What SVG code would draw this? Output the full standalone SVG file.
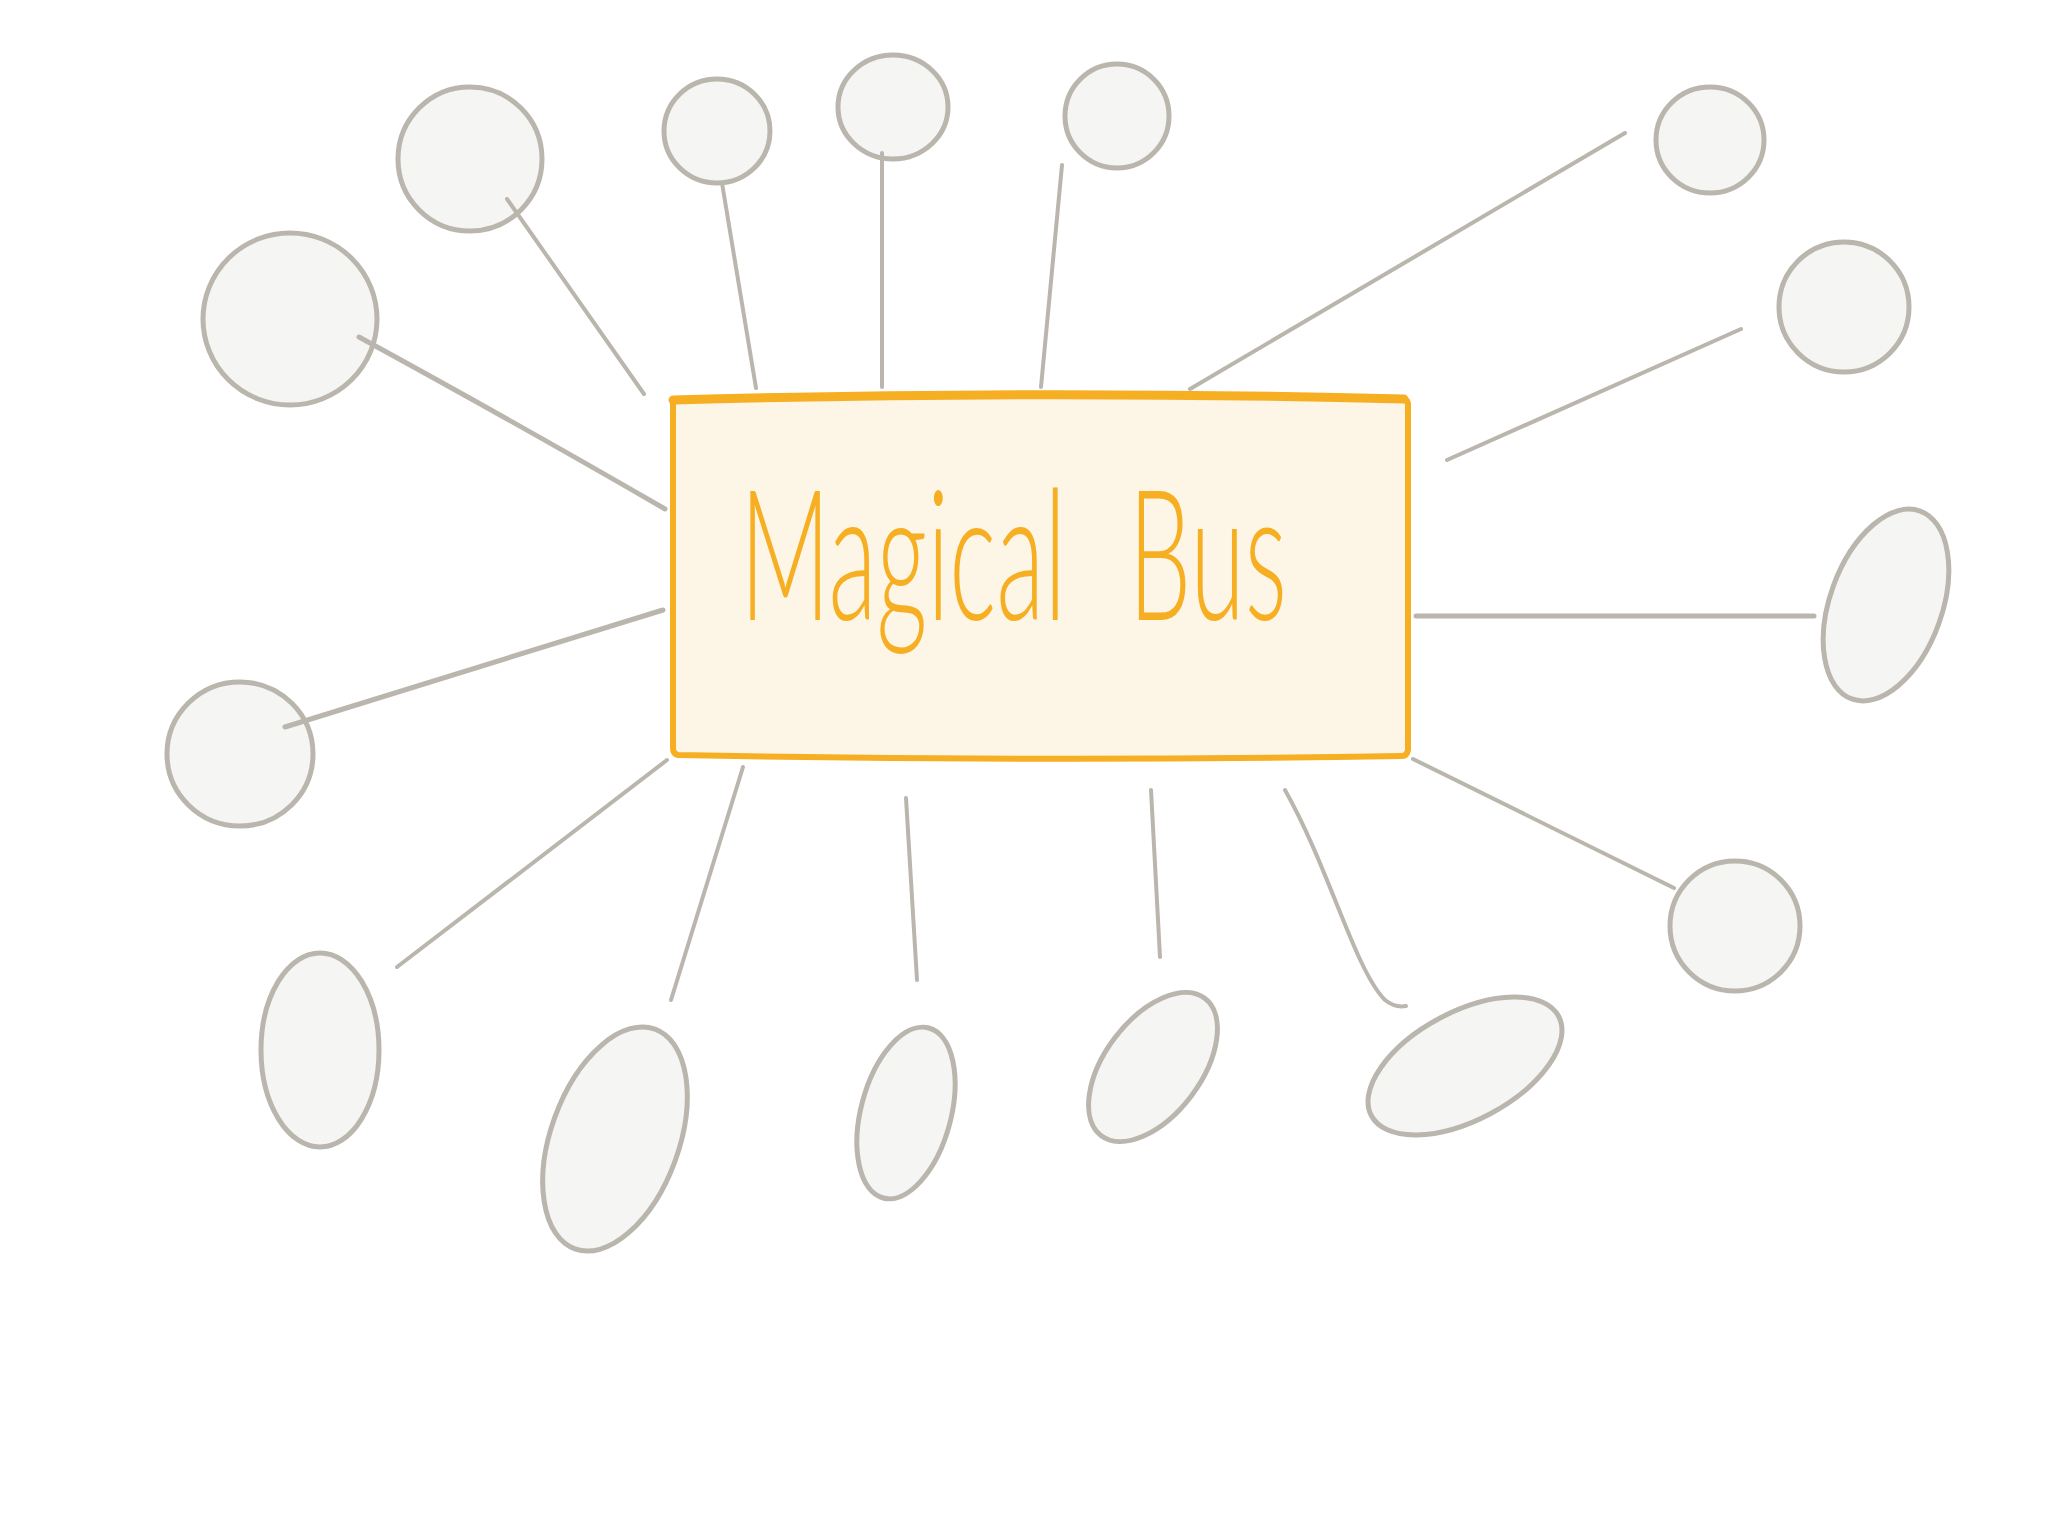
<svg xmlns="http://www.w3.org/2000/svg" width="2048" height="1536" viewBox="0 0 2048 1536">
<style>
.node{fill:#F5F5F3;stroke:#BAB6AE;stroke-width:5}
.edge{fill:none;stroke:#BAB6AE;stroke-width:4;stroke-linecap:round}
.hub{fill:#FDF5E5;stroke:#F6AF22;stroke-width:6;stroke-linejoin:round}
.lbl{fill:#F6AF22;font-family:Lato,"Open Sans","Liberation Sans",sans-serif;font-weight:300;font-size:182px;word-spacing:65px}
</style>
<rect width="2048" height="1536" fill="#FFFFFF"/>
<g id="hub">
<path class="hub" d="M673,400 Q1040,390 1404,399 Q1408,400 1408,405 L1408,750 Q1407,756 1402,756 Q1040,762 678,755 Q673,754 673,748 Z"/>
<path d="M673,400 Q1040,390 1404,399" fill="none" stroke="#F6AF22" stroke-width="9" stroke-linecap="round"/>
<text class="lbl" x="740" y="620" textLength="547" lengthAdjust="spacingAndGlyphs">Magical Bus</text>
</g>
<g id="n1"><ellipse class="node" cx="470" cy="159" rx="72" ry="72"/></g>
<g id="n2"><ellipse class="node" cx="290" cy="319" rx="87" ry="86"/></g>
<g id="n3"><ellipse class="node" cx="717" cy="131" rx="53" ry="52"/></g>
<g id="n4"><ellipse class="node" cx="893" cy="107" rx="55" ry="52"/></g>
<g id="n5"><ellipse class="node" cx="1117" cy="116" rx="52" ry="52"/></g>
<g id="n6"><ellipse class="node" cx="1710" cy="140" rx="54" ry="53"/></g>
<g id="n7"><ellipse class="node" cx="1844" cy="307" rx="65" ry="65"/></g>
<g id="n8"><ellipse class="node" cx="1886" cy="605" rx="56" ry="100" transform="rotate(20 1886 605)"/></g>
<g id="n9"><ellipse class="node" cx="240" cy="754" rx="73" ry="72"/></g>
<g id="n10"><ellipse class="node" cx="1735" cy="926" rx="65" ry="65"/></g>
<g id="n11"><ellipse class="node" cx="320" cy="1050" rx="59" ry="97"/></g>
<g id="n12"><ellipse class="node" cx="615" cy="1139" rx="64" ry="117" transform="rotate(20 615 1139)"/></g>
<g id="n13"><ellipse class="node" cx="906" cy="1113" rx="45" ry="88" transform="rotate(15 906 1113)"/></g>
<g id="n14"><ellipse class="node" cx="1153" cy="1067" rx="48" ry="86" transform="rotate(37 1153 1067)"/></g>
<g id="n15"><ellipse class="node" cx="1465" cy="1066" rx="106" ry="54" transform="rotate(-28 1465 1066)"/></g>
<g id="connectors">
<path class="edge" d="M507,199 L644,394"/>
<path class="edge" d="M359,337 Q520,425 665,509" style="stroke-width:5"/>
<path class="edge" d="M722,183 L756,388"/>
<path class="edge" d="M882,153 L882,387"/>
<path class="edge" d="M1062,165 L1041,387"/>
<path class="edge" d="M1625,133 L1190,389"/>
<path class="edge" d="M1741,329 L1447,460"/>
<path class="edge" d="M1416,616 L1814,616" style="stroke-width:5"/>
<path class="edge" d="M663,610 L285,727" style="stroke-width:5"/>
<path class="edge" d="M667,760 L397,967"/>
<path class="edge" d="M743,767 L671,1000"/>
<path class="edge" d="M906,798 L917,980"/>
<path class="edge" d="M1151,790 L1160,957"/>
<path class="edge" d="M1285,790 C1330,870 1355,970 1385,1000 Q1395,1008 1406,1006"/>
<path class="edge" d="M1413,759 L1674,888"/>
</g>
</svg>
